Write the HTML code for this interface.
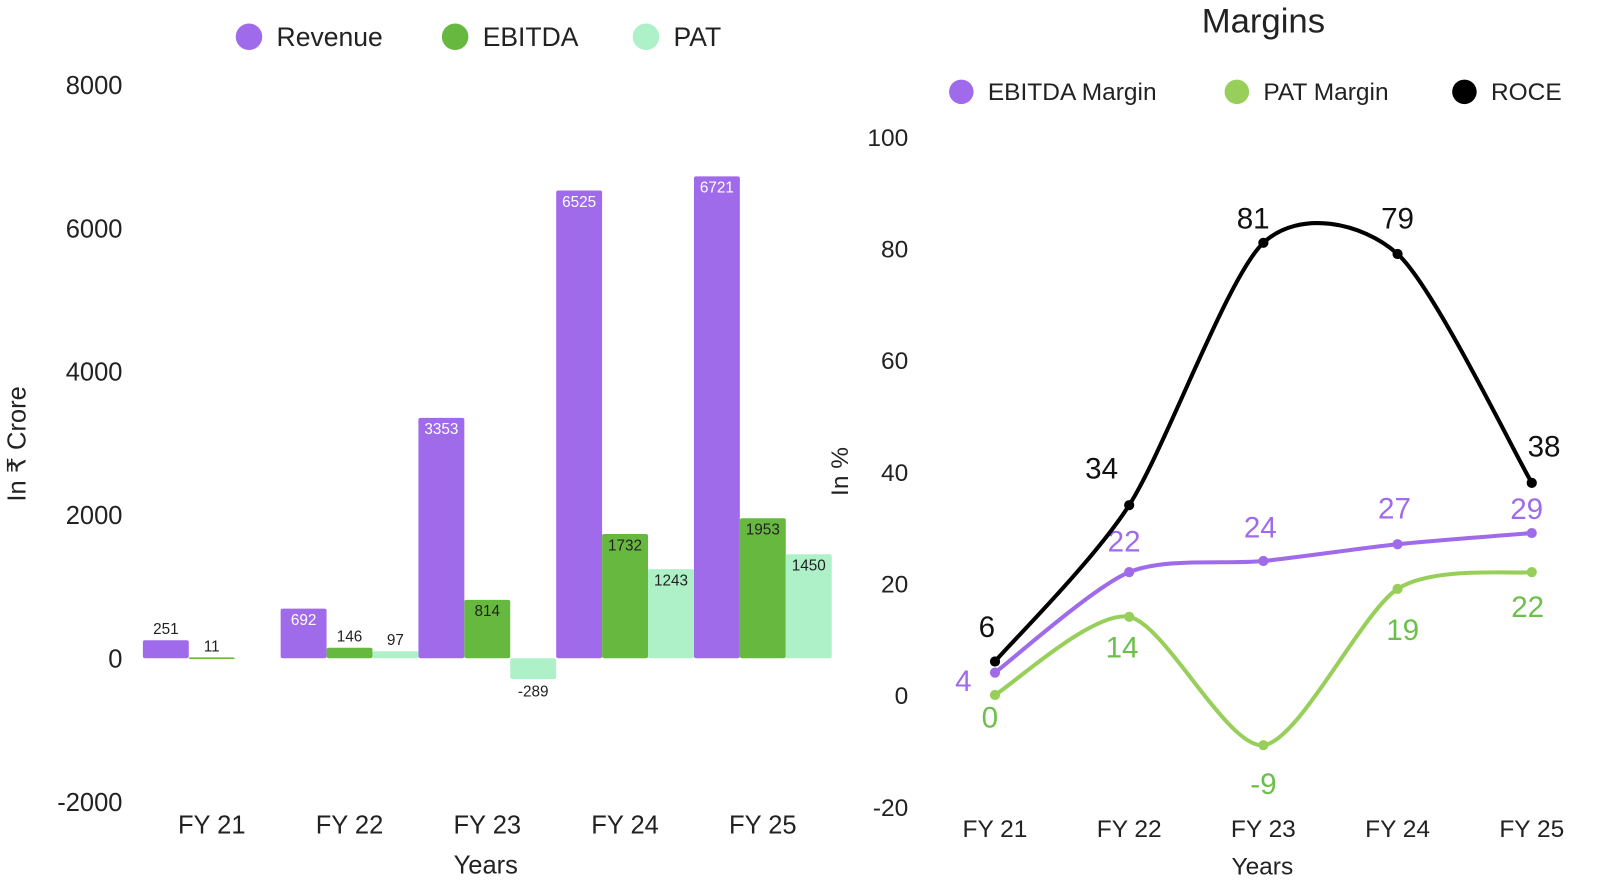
<!DOCTYPE html>
<html><head><meta charset="utf-8">
<style>
html,body{margin:0;padding:0;background:#fff;}
svg{display:block;font-family:"Liberation Sans","DejaVu Sans",sans-serif;}
</style></head>
<body>
<svg id="svgroot" width="1600" height="886" viewBox="0 0 1600 886"><g id="c" transform="scale(1.0205)"></g></svg>
<script>
const categories=["FY 21","FY 22","FY 23","FY 24","FY 25"];
const revenue=[251,692,3353,6525,6721];
const ebitda=[11,146,814,1732,1953];
const pat=[null,97,-289,1243,1450];
const leftTicks=[-2000,0,2000,4000,6000,8000];
const ebitdaMargin=[4,22,24,27,29];
const patMargin=[0,14,-9,19,22];
const roce=[6,34,81,79,38];
const rightTicks=[-20,0,20,40,60,80,100];

const NS="http://www.w3.org/2000/svg";
const svg=document.getElementById('c');
function mk(tag,attrs,parent,text){const e=document.createElementNS(NS,tag);for(const k in attrs)e.setAttribute(k,attrs[k]);if(text!==undefined)e.textContent=text;(parent||svg).appendChild(e);return e;}

const PURPLE="#9f6bea",GREEN="#67b83f",LIGHT="#aef0c8",LGREEN="#98cf5a";
const ly=v=>645-(v/2000)*140.5;
const groupW=135,barW=45,lx0=140;
const lx=i=>lx0+i*groupW;
const gL=mk('g',{});


leftTicks.forEach(t=>{const e=mk('text',{x:120,y:ly(t)+9,'text-anchor':'end','font-size':25,fill:'#222'},gL,String(t));
});
categories.forEach((c,i)=>{const e=mk('text',{x:lx(i)+groupW/2,y:817,'text-anchor':'middle','font-size':25,fill:'#222'},gL,c);
});
let e=mk('text',{x:476,y:856,'text-anchor':'middle','font-size':25,fill:'#222'},gL,'Years');

e=mk('text',{x:0,y:0,transform:'translate(25,435) rotate(-90)','text-anchor':'middle','font-size':25,fill:'#222'},gL,'In ₹ Crore');


const series=[[revenue,PURPLE,'revenue'],[ebitda,GREEN,'ebitda'],[pat,LIGHT,'pat']];
series.forEach(([vals,col,nm],s)=>{
  vals.forEach((v,i)=>{
    if(v===null)return;
    const x=lx(i)+s*barW;const y0=ly(0),y1=ly(v);
    const r=mk('rect',{x:x,y:Math.min(y0,y1),width:barW,height:Math.max(1.5,Math.abs(y1-y0)),fill:col,rx:2},gL);
    
    const h=Math.abs(y1-y0);let ty,fill;
    if(v<0){ty=y0+h+17;fill='#222';}
    else if(h>28){ty=y1+16;fill=(nm==='revenue')?'#fff':'#222';}
    else{ty=y1-6;fill='#222';}
    const t=mk('text',{x:x+barW/2,y:ty,'text-anchor':'middle','font-size':15,fill:fill},gL,String(v));
    
  });
});
[['Revenue',PURPLE,244],['EBITDA',GREEN,446],['PAT',LIGHT,633]].forEach(([n,c,x])=>{
  const g=mk('g',{},gL);
  mk('circle',{cx:x,cy:36,r:13,fill:c},g);
  mk('text',{x:x+27,y:45,'font-size':26,fill:'#222'},g,n);
});

const ry=v=>681-v*5.47;
const rx=i=>975+i*131.5;
const gR=mk('g',{});


e=mk('text',{x:1238,y:32,'text-anchor':'middle','font-size':34,fill:'#222'},gR,'Margins');

rightTicks.forEach(t=>{const e=mk('text',{x:890,y:ry(t)+9,'text-anchor':'end','font-size':24,fill:'#222'},gR,String(t));
});
categories.forEach((c,i)=>{const e=mk('text',{x:rx(i),y:820,'text-anchor':'middle','font-size':24,fill:'#222'},gR,c);
});
e=mk('text',{x:1237,y:857,'text-anchor':'middle','font-size':24,fill:'#222'},gR,'Years');

e=mk('text',{x:0,y:0,transform:'translate(831,462) rotate(-90)','text-anchor':'middle','font-size':24,fill:'#222'},gR,'In %');


function spline(pts){const k=7.5;let d=`M${pts[0][0]},${pts[0][1]}`;
  for(let i=0;i<pts.length-1;i++){const p0=pts[Math.max(0,i-1)],p1=pts[i],p2=pts[i+1],p3=pts[Math.min(pts.length-1,i+2)];
  const c1=[p1[0]+(p2[0]-p0[0])/k,p1[1]+(p2[1]-p0[1])/k],c2=[p2[0]-(p3[0]-p1[0])/k,p2[1]-(p3[1]-p1[1])/k];
  d+=` C${c1[0]},${c1[1]} ${c2[0]},${c2[1]} ${p2[0]},${p2[1]}`;}return d;}
const lines=[[patMargin,LGREEN,'#6cc04a','pat-margin',[22,30,38,40,34]],
 [ebitdaMargin,PURPLE,PURPLE,'ebitda-margin',[8,-30,-33,-35,-24]],
 [roce,'#000','#111','roce',[-34,-36,-24,-35,-36]]];
const lblDx={'pat-margin':[-5,-7,0,5,-4],'ebitda-margin':[-31,-5,-3,-3,-5],'roce':[-8,-27,-10,0,12]};
lines.forEach(([vals,col,lc,nm,dy])=>{
  const pts=vals.map((v,i)=>[rx(i),ry(v)]);
  const p=mk('path',{d:spline(pts),fill:'none',stroke:col,'stroke-width':4},gR);
  
  pts.forEach((q,i)=>{const c=mk('circle',{cx:q[0],cy:q[1],r:5,fill:col},gR);
    
    const t=mk('text',{x:q[0]+lblDx[nm][i],y:q[1]+dy[i]+10,'text-anchor':'middle','font-size':29,fill:lc},gR,String(vals[i]));
    });
});
[['EBITDA Margin',PURPLE,942],['PAT Margin',LGREEN,1212],['ROCE','#000',1435]].forEach(([n,c,x])=>{
  const g=mk('g',{},gR);
  mk('circle',{cx:x,cy:90,r:12,fill:c},g);
  mk('text',{x:x+26,y:98,'font-size':24,fill:'#222'},g,n);
});
</script>
</body></html>
